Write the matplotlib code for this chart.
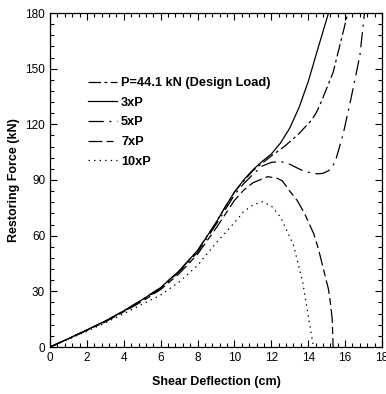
import numpy as np
import matplotlib
matplotlib.use("Agg")
import matplotlib.pyplot as plt
from matplotlib.ticker import MultipleLocator

plt.rcParams["font.family"] = ["Liberation Sans", "DejaVu Sans"]
plt.rcParams["lines.scale_dashes"] = False

# shared rising branch (cm, kN)
x_base = [0, 1, 2, 3, 4, 5, 6, 7, 8, 8.5, 9, 9.5, 10]
f_base = [0, 4.5, 9.2, 14, 19.5, 25.5, 32, 41, 52, 59.5, 67, 75.5, 83.5]

# stiffest curve (solid in the plot)
x_3p = x_base + [10.5, 11, 11.5, 12, 12.5, 13, 13.5, 14, 14.5, 15.1]
f_3p = f_base + [90, 95.5, 100, 104, 110, 118, 129, 143, 160, 180]

# design load curve
x_p = x_base + [10.5, 11, 11.5, 12, 12.7, 13.5, 14.2, 14.45, 14.7, 15.35, 15.8, 16.15]
f_p = f_base + [89.5, 95, 99, 103, 108, 115, 122.5, 126.5, 132, 148, 166, 180]

x_5p = [0, 1, 2, 3, 4, 5, 6, 7, 8, 8.5, 9, 9.5, 10, 10.5, 11, 11.5, 12, 12.5, 13, 13.3,
        13.6, 14, 14.5, 14.8, 15.1, 15.3, 15.5, 15.9, 16.3, 16.8, 17.05]
f_5p = [0, 4.5, 9.1, 13.8, 19.2, 25, 31.5, 40.5, 51, 58.5, 66, 74, 82, 88, 93, 97.5, 99.5,
        100, 98.5, 97, 95.5, 94.2, 93.3, 93.6, 95, 97, 101, 115, 133, 157, 180]

x_7p = [0, 1, 2, 3, 4, 5, 6, 7, 8, 8.5, 9, 9.5, 10, 10.5, 11, 11.8, 12.3, 12.6, 13, 13.4,
        13.8, 14.3, 14.55, 14.8, 15.1, 15.2, 15.3, 15.35]
f_7p = [0, 4.4, 9, 13.6, 19, 24.6, 31, 39.5, 50, 57, 64, 71.5, 79, 84.5, 88.5, 91.8, 91,
        89.5, 84, 79, 72, 61, 53, 43, 31, 24, 15, 0]

x_10p = [0, 1, 2, 3, 4, 5, 6, 7, 8, 9, 10, 10.5, 11, 11.5, 12, 12.5, 13.2, 13.7, 14.0,
         14.2, 14.3]
f_10p = [0, 4.2, 8.5, 13, 18, 23, 28, 35, 44, 56, 67, 73, 76.5, 78.3, 76, 70, 55, 35,
         17, 5, 0]

labels = ["P=44.1 kN (Design Load)", "3xP", "5xP", "7xP", "10xP"]

fig = plt.figure(figsize=(3.86, 3.94), dpi=100)
ax = fig.add_axes([50 / 386, 47 / 394, 332 / 386, 334 / 394])

lw = 0.9
ax.plot(x_p, f_p, c="k", lw=lw, ls=(0, (9, 2.5, 2, 2.5)), label=labels[0])
ax.plot(x_3p, f_3p, c="k", lw=lw, ls="-", label=labels[1])
ax.plot(x_5p, f_5p, c="k", lw=lw, ls=(0, (11, 4, 1.5, 4)), label=labels[2])
ax.plot(x_7p, f_7p, c="k", lw=lw, ls=(0, (10, 3, 5, 3)), label=labels[3])
ax.plot(x_10p, f_10p, c="k", lw=lw, ls=(0, (1, 3)), label=labels[4])

ax.set_xlim(0, 18)
ax.set_ylim(0, 180)
ax.xaxis.set_major_locator(MultipleLocator(2))
ax.xaxis.set_minor_locator(MultipleLocator(0.4))
ax.yaxis.set_major_locator(MultipleLocator(30))
ax.yaxis.set_minor_locator(MultipleLocator(6))
ax.tick_params(which="both", direction="in", top=True, right=True, labelsize=8.5, width=0.8)
ax.tick_params(which="major", length=5)
ax.tick_params(which="minor", length=3)
for s in ax.spines.values():
    s.set_linewidth(0.9)

ax.set_xlabel("Shear Deflection (cm)", fontsize=9, fontweight="bold", labelpad=9)
ax.set_ylabel("Restoring Force (kN)", fontsize=9, fontweight="bold", labelpad=4)

leg = ax.legend(loc="upper left", bbox_to_anchor=(0.114, 0.808), frameon=False,
                prop={"weight": "bold", "size": 9.2}, handlelength=2.3,
                handletextpad=0.3, labelspacing=0.6, borderpad=0, borderaxespad=0)

fig.savefig("out.png", dpi=100)
